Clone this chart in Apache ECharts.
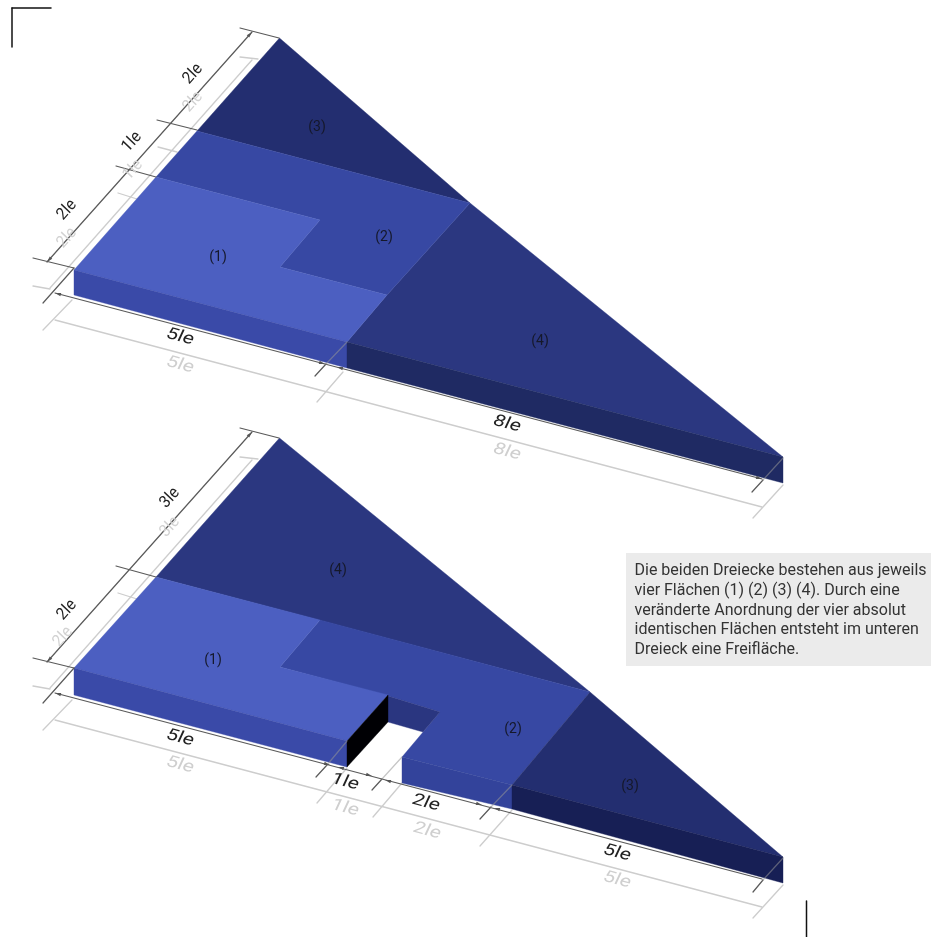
<!DOCTYPE html>
<html><head><meta charset="utf-8">
<style>html,body{margin:0;padding:0;background:#fff}#c{width:931px;height:937px}</style>
<script src="https://cdn.jsdelivr.net/npm/echarts@6/dist/echarts.min.js"></script>
</head><body><div id="c"></div>
<script>
// colours by face kind
const C1='#4c5fc1',C1S='#3a4aa8',C2='#3748a3',C2S='#33439b',C3='#232e70',C4='#2b3780',C4S='#1f2a63',C3S='#171f55',CH='#2a3680',BK='#000004';
// filled faces: [colour, x,y, x,y, ...]
const upperFaces=[
 [C3,279.5,38,197,131,470,203],
 [C4,470,203,783,457,347,342,387,295],
 [C2,197,131,470,203,387,295,280,267,320,220,156,177],
 [C1,156,177,320,220,280,267,387,295,347,342,74,270],
 [C1S,74,270,347,342,347,368,74,295],
 [C4S,347,342,783,457,783,483,347,368]
];
const lowerFaces=[
 [C4,279.5,438,156,577,590,692],
 [C2,320,620,590,692,512,785,402,757,440,712,388,696,280,667],
 [CH,388,696,440,712,423,732,388,722],
 [C3,590,692,783,857,512,785],
 [C1,156,577,320,620,280,667,388,695,347,741,74,668],
 [C1S,74,668,347,741,347,767,74,695],
 [BK,347,741,388,695,388,722,347,767],
 [C2S,402,757,512,785,512,809,402,783],
 [C3S,512,785,783,857,783,883,512,809]
];
// dark dimension lines
const darkLines=[
 [47,262,252,32],[240,28,279,38],[157,120,197,130],[116,166,156,177],[33,258,74,268],[43,303,74,268],
 [55,293,762,479],[315,376,326,364],[752,492,763,480],
 [47,662,252,432],[240,428,279,438],[116,566,156,577],[33,658,74,668],[43,703,74,668],
 [55,693,762,879],[316,777,327,765],[372,790,382,779],[480,819,491,807],[753,892,763,880]
];
// dimension ticks running on over the faces
const overLines=[
 [326,364,347,342],[763,480,783,458],
 [327,765,347,741],[382,779,402,757],[491,807,512,785],[763,880,783,858]
];
// mirrored pale dimension lines
const ghostLines=[
 [50,288,252,60],[240,57,258,59],[158,147,177,152],[118,193,137,199],[33,286,50,289],
 [55,320,762,507],[43,330,72,300],[317,402,343,372],[753,518,783,485],
 [50,688,252,460],[240,457,258,459],[118,593,137,599],[33,686,50,689],
 [55,720,762,907],[43,730,72,700],[317,803,347,768],[373,817,402,783],[480,846,512,810],[753,918,783,885]
];
// arrow heads on dimension lines: [tipX,tipY,fromX,fromY]
const arrows=[
 [47,262,252,32],[252,32,47,262],[55,293,762,479],[762,479,55,293],[325,364,55,293],[337,367,762,479],
 [47,662,252,432],[252,432,47,662],[55,693,762,879],[330,765,55,693],[338,767,762,879],[372,776,55,693],[385,780,762,879],[482,805,55,693],[494,808,762,879]
];
const edgeLabels=[['2le',193,74],['1le',132,142],['2le',67,210],['3le',170,498],['2le',67,610]];
const edgeGhosts=[['2le',193,102],['1le',133,170],['2le',67,238],['3le',170,527],['2le',63,637]];
const baseLabels=[['5le',180,337],['8le',507,424],['5le',180,738],['1le',345,782],['2le',426,803],['5le',617,853]];
const baseGhosts=[['5le',180,365],['8le',507,452],['5le',180,765],['1le',345,808],['2le',427,831],['5le',617,880]];
const areaLabels=[['(3)',317,127],['(2)',384,237],['(1)',218,257],['(4)',540,341],['(4)',338,570],['(1)',213,660],['(2)',513,729],['(3)',630,786]];
const noteBox=[626,553,931,666];
const noteLines=['Die beiden Dreiecke bestehen aus jeweils','vier Flächen (1) (2) (3) (4). Durch eine','veränderte Anordnung der vier absolut','identischen Flächen entsteht im unteren','Dreieck eine Freifläche.'];
const noteLineY=[570.5,590.5,610.5,630,650];
const noteX=634.5;
const cornerMarks=[[12,8,12,47],[12,8,51,8],[806.5,901,806.5,937]];

const polySeries=(list,z)=>({type:'custom',coordinateSystem:'cartesian2d',clip:false,silent:true,z,
 data:list.map((_,i)=>[i]),
 renderItem:(p,api)=>{const f=list[api.value(0)];const pts=[];
  for(let i=1;i<f.length;i+=2)pts.push(api.coord([f[i],f[i+1]]));
  return {type:'polygon',shape:{points:pts},style:{fill:f[0],stroke:f[0],lineWidth:.4}};}});
const lineSeries=(list,stroke,w,z)=>({type:'custom',coordinateSystem:'cartesian2d',clip:false,silent:true,z,
 data:list.map((_,i)=>[i]),
 renderItem:(p,api)=>{const l=list[api.value(0)];const a=api.coord([l[0],l[1]]),b=api.coord([l[2],l[3]]);
  return {type:'line',shape:{x1:a[0],y1:a[1],x2:b[0],y2:b[1]},style:{stroke,lineWidth:w,lineCap:'round'}};}});
const arrowSeries=(list,fill,z)=>({type:'custom',coordinateSystem:'cartesian2d',clip:false,silent:true,z,
 data:list.map((_,i)=>[i]),
 renderItem:(p,api)=>{const l=list[api.value(0)];const t=api.coord([l[0],l[1]]),f=api.coord([l[2],l[3]]);
  const dx=f[0]-t[0],dy=f[1]-t[1],n=Math.hypot(dx,dy),ux=dx/n,uy=dy/n;
  return {type:'polygon',shape:{points:[t,[t[0]+ux*6-uy*1.7,t[1]+uy*6+ux*1.7],[t[0]+ux*6+uy*1.7,t[1]+uy*6-ux*1.7]]},style:{fill}};}});
// text laid on the drawing's plane: baseline along u, letters up along v (SVD of the 2x2 map)
const planeText=(list,style,u,v,z)=>{
 const a=u[0],c=u[1],b=-v[0],d=-v[1];
 const E=(a+d)/2,F=(a-d)/2,G=(c+b)/2,H=(c-b)/2,Q=Math.hypot(E,H),R=Math.hypot(F,G);
 const a1=Math.atan2(G,F),a2=Math.atan2(H,E),th2=(a2-a1)/2,th1=(a2+a1)/2;
 return {type:'custom',coordinateSystem:'cartesian2d',clip:false,silent:true,z,
 data:list.map((_,i)=>[i]),
 renderItem:(p,api)=>{const t=list[api.value(0)];const pt=api.coord([t[1],t[2]]);
  return {type:'group',x:pt[0],y:pt[1],rotation:-th1,scaleX:Q+R,scaleY:Q-R,children:[
   {type:'text',rotation:-th2,style:Object.assign({text:t[0],align:'center',verticalAlign:'middle'},style)}]};}};};
const textSeries=(list,style,z)=>({type:'custom',coordinateSystem:'cartesian2d',clip:false,silent:true,z,
 data:list.map((_,i)=>[i]),
 renderItem:(p,api)=>{const t=list[api.value(0)];const c=api.coord([t[1],t[2]]);
  return {type:'text',x:c[0],y:c[1],style:Object.assign({text:t[0],align:'center',verticalAlign:'middle'},style)};}});

const chart=echarts.init(document.getElementById('c'),null,{renderer:'canvas'});
const F='Roboto';
const edgeU=[0.66*1.12,-0.75*1.12],edgeV=[-0.72*1.2,-0.69*1.2];
const baseU=[0.966*1.3,0.258*1.3],baseV=[0.44,-0.95];
chart.setOption({animation:false,backgroundColor:'#fff',
 grid:{left:0,right:0,top:0,bottom:0},
 xAxis:{type:'value',min:0,max:931,show:false},
 yAxis:{type:'value',min:0,max:937,inverse:true,show:false},
 series:[
  lineSeries(ghostLines,'#cdcdcd',1.3,1),
  polySeries(upperFaces,2),
  polySeries(lowerFaces,2),
  lineSeries(darkLines,'#5a5a5a',1.2,3),
  lineSeries(overLines,'rgba(150,150,150,0.55)',1.2,3),
  arrowSeries(arrows,'#555',3),
  lineSeries(cornerMarks,'#111',1.5,3),
  planeText(edgeGhosts,{font:'14px '+F,fill:'#d2d2d2'},edgeU,edgeV,4),
  planeText(edgeLabels,{font:'14px '+F,fill:'#222'},edgeU,edgeV,4),
  planeText(baseGhosts,{font:'16px '+F,fill:'#cfcfcf'},baseU,baseV,4),
  planeText(baseLabels,{font:'16px '+F,fill:'#222'},baseU,baseV,4),
  textSeries(areaLabels,{font:'14px '+F,fill:'#15182a'},5),
  {type:'custom',coordinateSystem:'cartesian2d',clip:false,silent:true,z:1,data:[[0]],
   renderItem:(p,api)=>{const a=api.coord([noteBox[0],noteBox[1]]),b=api.coord([noteBox[2],noteBox[3]]);
    return {type:'rect',shape:{x:a[0],y:a[1],width:b[0]-a[0],height:b[1]-a[1]},style:{fill:'#ebebeb'}};}},
  {type:'custom',coordinateSystem:'cartesian2d',clip:false,silent:true,z:5,data:noteLines.map((_,i)=>[i]),
   renderItem:(p,api)=>{const i=api.value(0);const c=api.coord([noteX,noteLineY[i]]);
    return {type:'text',x:c[0],y:c[1],style:{text:noteLines[i],font:'16px '+F,fill:'#333',align:'left',verticalAlign:'middle'}};}}
 ]});
</script></body></html>
